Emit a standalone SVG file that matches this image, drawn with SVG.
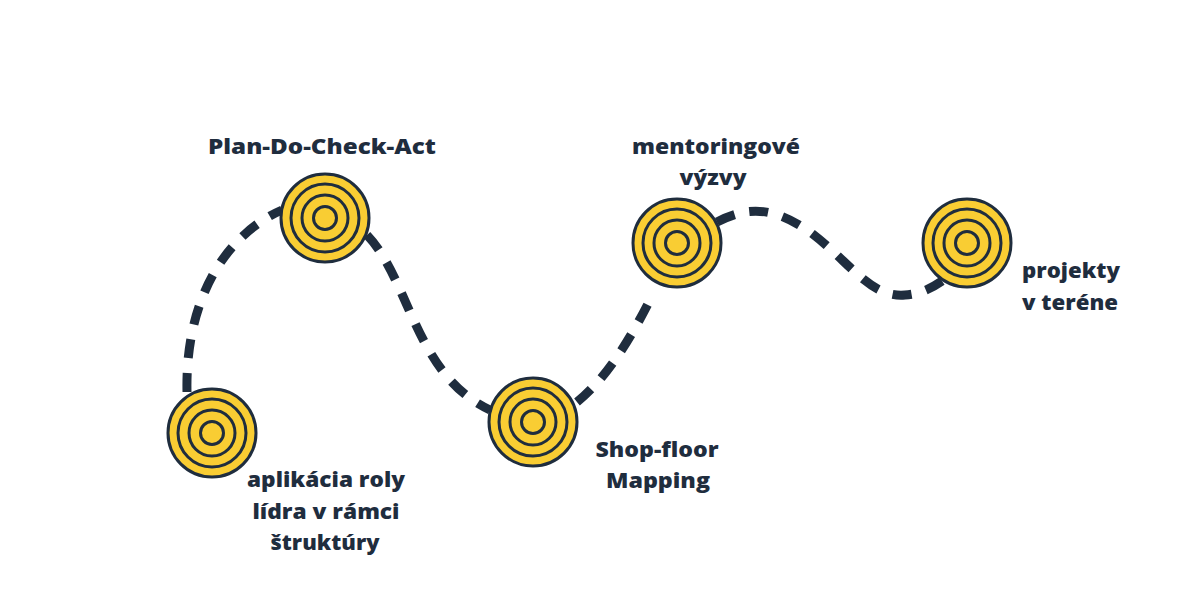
<svg xmlns="http://www.w3.org/2000/svg" width="1200" height="600" viewBox="0 0 1200 600">
  <defs>
    <style>
      .path { fill: none; stroke: #1f2d3e; stroke-width: 9; stroke-dasharray: 19 15; stroke-linecap: butt; }
      .ring { fill: #f9cd33; stroke: #1f2d3e; stroke-width: 3; }
      .lbl { font-family: "Open Sans", "Liberation Sans", sans-serif; font-weight: 800; font-size: 21px; fill: #1f2d3e; text-anchor: middle; }
    </style>
    <g id="target">
      <circle class="ring" r="44"/>
      <circle class="ring" r="34"/>
      <circle class="ring" r="23"/>
      <circle class="ring" r="11.5"/>
    </g>
  </defs>
  <rect width="1200" height="600" fill="#ffffff"/>
  <g id="connectors">
    <path class="path" d="M187,392 C185,300 225,235 282,210"/>
    <path class="path" d="M367,235 C410,280 415,375 490,410"/>
    <path class="path" d="M577,402 C608,377 632,336 653,294"/>
    <path class="path" d="M717,222 C750,205 775,208 810,232 C850,262 870,298 905,295 C920,294 932,288 942,281"/>
  </g>
  <g id="node1">
    <use href="#target" x="212" y="433"/>
    <text class="lbl" x="326" y="487" textLength="158" lengthAdjust="spacingAndGlyphs">aplikácia roly</text>
    <text class="lbl" x="326" y="519" textLength="147" lengthAdjust="spacingAndGlyphs">lídra v rámci</text>
    <text class="lbl" x="325" y="550" textLength="109" lengthAdjust="spacingAndGlyphs">štruktúry</text>
  </g>
  <g id="node2">
    <use href="#target" x="325" y="218"/>
    <text class="lbl" x="322" y="154" textLength="228" lengthAdjust="spacingAndGlyphs">Plan-Do-Check-Act</text>
  </g>
  <g id="node3">
    <use href="#target" x="533" y="422"/>
    <text class="lbl" x="657" y="457" textLength="123" lengthAdjust="spacingAndGlyphs">Shop-floor</text>
    <text class="lbl" x="658" y="488" textLength="104" lengthAdjust="spacingAndGlyphs">Mapping</text>
  </g>
  <g id="node4">
    <use href="#target" x="677" y="243"/>
    <text class="lbl" x="716" y="154" textLength="168" lengthAdjust="spacingAndGlyphs">mentoringové</text>
    <text class="lbl" x="713" y="185" textLength="67" lengthAdjust="spacingAndGlyphs">výzvy</text>
  </g>
  <g id="node5">
    <use href="#target" x="967" y="243"/>
    <text class="lbl" x="1071" y="278" textLength="98" lengthAdjust="spacingAndGlyphs">projekty</text>
    <text class="lbl" x="1070" y="310" textLength="96" lengthAdjust="spacingAndGlyphs">v teréne</text>
  </g>
</svg>
